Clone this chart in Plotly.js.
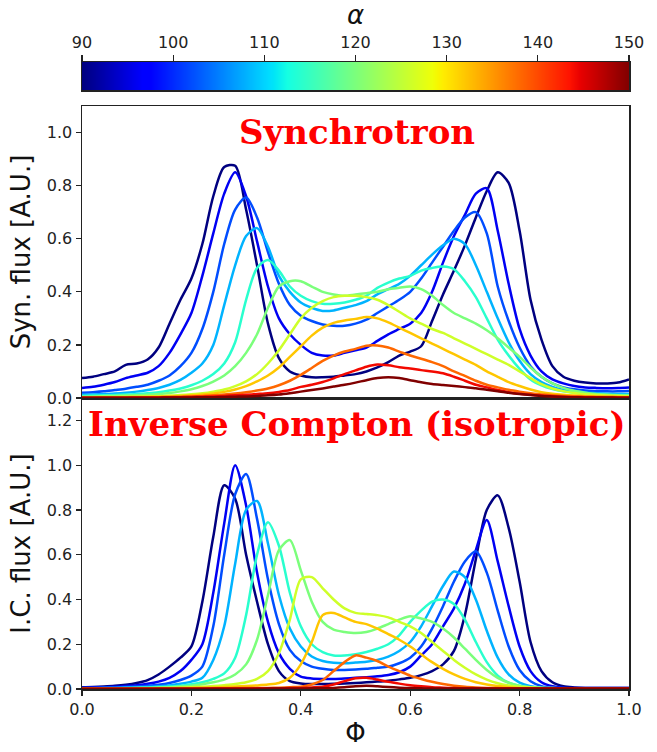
<!DOCTYPE html>
<html><head><meta charset="utf-8">
<script src="https://cdn.plot.ly/plotly-3.0.1.min.js"></script>
<style>html,body{margin:0;padding:0;background:#fff}</style>
</head><body><div id="chart" style="width:657px;height:752px"></div>
<script>
// Shared phase grid
const PHI = [0.00,0.02,0.04,0.06,0.08,0.10,0.12,0.14,0.16,0.18,0.20,0.22,0.24,0.26,0.28,0.30,0.32,0.34,0.36,0.38,0.40,0.42,0.44,0.46,0.48,0.50,0.52,0.54,0.56,0.58,0.60,0.62,0.64,0.66,0.68,0.70,0.72,0.74,0.76,0.78,0.80,0.82,0.84,0.86,0.88,0.90,0.92,0.94,0.96,0.98,1.00];
const ALPHA = [90,96,102,108,114,120,126,132,138,144,150];
const ALPHA_MIN = 90, ALPHA_MAX = 150;
const CBAR_TICKS = [90,100,110,120,130,140,150];

// Synchrotron light curves
const SYN_90  = [0.075,0.08,0.09,0.10,0.125,0.13,0.145,0.19,0.28,0.37,0.45,0.58,0.76,0.87,0.875,0.71,0.50,0.28,0.15,0.10,0.085,0.078,0.078,0.08,0.085,0.09,0.10,0.115,0.135,0.16,0.175,0.195,0.29,0.39,0.48,0.575,0.68,0.78,0.85,0.81,0.63,0.37,0.22,0.12,0.08,0.065,0.058,0.055,0.055,0.058,0.07];
const SYN_96  = [0.038,0.042,0.05,0.06,0.075,0.085,0.095,0.12,0.17,0.24,0.32,0.46,0.62,0.77,0.85,0.76,0.59,0.42,0.30,0.24,0.20,0.17,0.16,0.16,0.17,0.18,0.19,0.215,0.24,0.26,0.28,0.32,0.40,0.51,0.61,0.69,0.77,0.79,0.63,0.43,0.26,0.16,0.10,0.07,0.055,0.045,0.04,0.038,0.037,0.038,0.04];
const SYN_102 = [0.02,0.022,0.025,0.03,0.035,0.042,0.05,0.065,0.085,0.12,0.17,0.26,0.40,0.58,0.71,0.755,0.68,0.55,0.43,0.35,0.31,0.29,0.277,0.272,0.272,0.28,0.295,0.32,0.345,0.37,0.40,0.45,0.51,0.57,0.63,0.68,0.70,0.62,0.42,0.29,0.19,0.12,0.08,0.055,0.04,0.033,0.028,0.026,0.025,0.025,0.026];
const SYN_108 = [0.012,0.013,0.015,0.017,0.02,0.024,0.03,0.038,0.05,0.068,0.095,0.13,0.20,0.35,0.50,0.61,0.64,0.57,0.46,0.40,0.36,0.34,0.328,0.33,0.34,0.35,0.365,0.39,0.41,0.43,0.46,0.50,0.54,0.575,0.60,0.58,0.50,0.40,0.30,0.21,0.14,0.09,0.06,0.042,0.03,0.024,0.02,0.018,0.016,0.015,0.015];
const SYN_114 = [0.008,0.009,0.01,0.011,0.013,0.015,0.018,0.022,0.028,0.036,0.048,0.065,0.09,0.13,0.21,0.37,0.49,0.52,0.48,0.42,0.385,0.365,0.355,0.355,0.36,0.37,0.385,0.415,0.435,0.45,0.46,0.48,0.49,0.495,0.485,0.44,0.38,0.30,0.22,0.16,0.11,0.07,0.048,0.034,0.025,0.02,0.016,0.014,0.012,0.011,0.011];
const SYN_120 = [0.005,0.006,0.007,0.008,0.009,0.01,0.012,0.015,0.019,0.025,0.033,0.045,0.062,0.085,0.12,0.17,0.24,0.34,0.42,0.44,0.44,0.42,0.40,0.39,0.385,0.39,0.395,0.40,0.41,0.415,0.42,0.41,0.385,0.35,0.32,0.30,0.28,0.255,0.225,0.19,0.155,0.115,0.08,0.055,0.038,0.027,0.02,0.015,0.012,0.01,0.009];
const SYN_126 = [0.003,0.003,0.004,0.004,0.005,0.005,0.006,0.007,0.009,0.011,0.014,0.018,0.024,0.032,0.045,0.063,0.09,0.13,0.18,0.24,0.30,0.34,0.365,0.38,0.385,0.385,0.38,0.37,0.35,0.325,0.30,0.28,0.26,0.245,0.225,0.205,0.185,0.165,0.145,0.125,0.10,0.075,0.052,0.036,0.026,0.019,0.014,0.011,0.009,0.008,0.007];
const SYN_132 = [0.002,0.002,0.003,0.003,0.003,0.004,0.004,0.005,0.006,0.008,0.01,0.013,0.017,0.023,0.032,0.045,0.063,0.085,0.115,0.155,0.195,0.235,0.265,0.283,0.292,0.298,0.305,0.30,0.285,0.265,0.245,0.225,0.205,0.185,0.165,0.145,0.125,0.10,0.08,0.06,0.045,0.032,0.022,0.016,0.012,0.009,0.007,0.006,0.005,0.005,0.004];
const SYN_138 = [0.001,0.001,0.002,0.002,0.002,0.002,0.003,0.003,0.004,0.005,0.006,0.008,0.01,0.013,0.017,0.022,0.028,0.036,0.048,0.065,0.087,0.113,0.14,0.16,0.175,0.185,0.197,0.198,0.19,0.175,0.16,0.148,0.135,0.12,0.10,0.083,0.065,0.05,0.04,0.031,0.024,0.018,0.013,0.01,0.008,0.006,0.005,0.004,0.004,0.003,0.003];
const SYN_144 = [0.001,0.001,0.001,0.001,0.001,0.002,0.002,0.002,0.003,0.003,0.004,0.005,0.006,0.008,0.01,0.012,0.015,0.018,0.023,0.03,0.042,0.05,0.06,0.074,0.09,0.104,0.118,0.126,0.123,0.116,0.111,0.105,0.10,0.093,0.08,0.065,0.05,0.04,0.03,0.022,0.016,0.012,0.009,0.007,0.005,0.004,0.003,0.003,0.002,0.002,0.002];
const SYN_150 = [0.001,0.001,0.001,0.001,0.001,0.001,0.001,0.001,0.002,0.002,0.002,0.003,0.003,0.004,0.005,0.006,0.008,0.01,0.013,0.018,0.024,0.03,0.036,0.043,0.05,0.058,0.067,0.075,0.078,0.075,0.067,0.059,0.053,0.049,0.045,0.041,0.037,0.031,0.025,0.02,0.015,0.011,0.008,0.006,0.004,0.003,0.002,0.002,0.002,0.001,0.001];

// Inverse Compton light curves
const IC_90  = [0.008,0.009,0.011,0.014,0.019,0.027,0.04,0.065,0.10,0.14,0.19,0.39,0.68,0.91,0.85,0.60,0.39,0.20,0.08,0.035,0.025,0.022,0.022,0.023,0.025,0.027,0.03,0.033,0.037,0.043,0.05,0.062,0.08,0.11,0.17,0.33,0.58,0.80,0.865,0.72,0.48,0.21,0.08,0.03,0.012,0.007,0.005,0.005,0.005,0.005,0.005];
const IC_96  = [0.006,0.007,0.008,0.01,0.013,0.017,0.023,0.033,0.05,0.08,0.13,0.20,0.43,0.74,1.00,0.82,0.52,0.30,0.16,0.09,0.055,0.047,0.045,0.045,0.047,0.05,0.053,0.057,0.063,0.075,0.10,0.15,0.20,0.28,0.36,0.47,0.62,0.755,0.57,0.37,0.19,0.08,0.03,0.012,0.006,0.004,0.004,0.004,0.004,0.004,0.004];
const IC_102 = [0.004,0.005,0.006,0.007,0.009,0.011,0.014,0.019,0.027,0.04,0.06,0.10,0.28,0.60,0.87,0.96,0.76,0.49,0.29,0.175,0.125,0.10,0.09,0.085,0.085,0.087,0.09,0.095,0.10,0.115,0.14,0.19,0.27,0.37,0.48,0.57,0.615,0.52,0.35,0.19,0.085,0.035,0.013,0.006,0.004,0.003,0.003,0.003,0.003,0.003,0.003];
const IC_108 = [0.003,0.003,0.004,0.005,0.006,0.007,0.009,0.012,0.016,0.023,0.033,0.05,0.13,0.28,0.56,0.80,0.84,0.65,0.42,0.27,0.19,0.145,0.125,0.117,0.115,0.118,0.122,0.13,0.145,0.17,0.21,0.28,0.37,0.46,0.525,0.50,0.40,0.26,0.14,0.065,0.028,0.012,0.006,0.004,0.003,0.003,0.003,0.003,0.003,0.003,0.003];
const IC_114 = [0.002,0.002,0.003,0.003,0.004,0.005,0.006,0.008,0.011,0.015,0.021,0.03,0.045,0.07,0.14,0.33,0.60,0.745,0.64,0.43,0.28,0.20,0.165,0.15,0.15,0.155,0.165,0.18,0.20,0.24,0.30,0.35,0.39,0.40,0.38,0.31,0.21,0.12,0.06,0.028,0.013,0.007,0.004,0.003,0.003,0.003,0.003,0.003,0.003,0.003,0.003];
const IC_120 = [0.002,0.002,0.002,0.003,0.003,0.004,0.005,0.006,0.008,0.011,0.015,0.021,0.03,0.042,0.065,0.11,0.22,0.42,0.62,0.665,0.53,0.39,0.30,0.265,0.255,0.25,0.255,0.27,0.29,0.31,0.325,0.315,0.30,0.27,0.23,0.18,0.13,0.085,0.05,0.028,0.015,0.008,0.005,0.003,0.003,0.003,0.003,0.003,0.003,0.003,0.003];
const IC_126 = [0.001,0.001,0.002,0.002,0.002,0.003,0.003,0.004,0.005,0.006,0.008,0.01,0.013,0.017,0.022,0.03,0.045,0.08,0.16,0.31,0.49,0.50,0.45,0.40,0.36,0.34,0.335,0.33,0.32,0.30,0.28,0.25,0.21,0.17,0.13,0.095,0.065,0.042,0.026,0.016,0.01,0.007,0.005,0.004,0.003,0.003,0.003,0.003,0.003,0.003,0.003];
const IC_132 = [0.001,0.001,0.001,0.001,0.002,0.002,0.002,0.003,0.003,0.004,0.005,0.006,0.007,0.009,0.011,0.013,0.016,0.02,0.027,0.05,0.11,0.21,0.33,0.34,0.32,0.30,0.29,0.27,0.245,0.22,0.19,0.155,0.12,0.09,0.065,0.045,0.03,0.02,0.013,0.008,0.005,0.004,0.003,0.003,0.003,0.003,0.003,0.003,0.003,0.003,0.003];
const IC_138 = [0.001,0.001,0.001,0.001,0.001,0.001,0.001,0.002,0.002,0.002,0.002,0.003,0.003,0.003,0.004,0.004,0.005,0.005,0.006,0.008,0.01,0.02,0.04,0.08,0.12,0.15,0.14,0.125,0.10,0.08,0.06,0.045,0.032,0.022,0.015,0.01,0.007,0.005,0.004,0.003,0.003,0.003,0.003,0.003,0.003,0.003,0.003,0.003,0.003,0.003,0.003];
const IC_144 = [0.001,0.001,0.001,0.001,0.001,0.001,0.001,0.001,0.001,0.001,0.001,0.001,0.002,0.002,0.002,0.002,0.003,0.003,0.003,0.004,0.005,0.007,0.01,0.02,0.035,0.048,0.05,0.042,0.032,0.024,0.017,0.012,0.008,0.006,0.004,0.003,0.003,0.003,0.002,0.002,0.002,0.002,0.002,0.002,0.002,0.002,0.002,0.002,0.002,0.002,0.002];
const IC_150 = [0.001,0.001,0.001,0.001,0.001,0.001,0.001,0.001,0.001,0.001,0.001,0.001,0.001,0.001,0.001,0.001,0.001,0.002,0.002,0.002,0.002,0.003,0.003,0.005,0.008,0.012,0.014,0.012,0.009,0.006,0.004,0.003,0.002,0.002,0.002,0.002,0.002,0.002,0.002,0.002,0.002,0.002,0.002,0.002,0.002,0.002,0.002,0.002,0.002,0.002,0.002];

const SYN = [SYN_90,SYN_96,SYN_102,SYN_108,SYN_114,SYN_120,SYN_126,SYN_132,SYN_138,SYN_144,SYN_150];
const IC  = [IC_90,IC_96,IC_102,IC_108,IC_114,IC_120,IC_126,IC_132,IC_138,IC_144,IC_150];

// matplotlib "jet" colormap
const JET = {
  r: [[0,0],[0.35,0],[0.66,1],[0.89,1],[1,0.5]],
  g: [[0,0],[0.125,0],[0.375,1],[0.64,1],[0.91,0],[1,0]],
  b: [[0,0.5],[0.11,1],[0.34,1],[0.65,0],[1,0]]
};
function seg(pts, t){
  for(let i=1;i<pts.length;i++){
    if(t<=pts[i][0]){const [x0,y0]=pts[i-1],[x1,y1]=pts[i];return y0+(y1-y0)*(t-x0)/(x1-x0);}
  }
  return pts[pts.length-1][1];
}
function jet(t){
  t=Math.max(0,Math.min(1,t));
  const c=[seg(JET.r,t),seg(JET.g,t),seg(JET.b,t)].map(v=>Math.round(v*255));
  return `rgb(${c[0]},${c[1]},${c[2]})`;
}
const STOPS=[0,0.11,0.125,0.34,0.35,0.375,0.64,0.65,0.66,0.89,0.91,1];
const JET_SCALE = STOPS.map(s=>[s,jet(s)]);

const traces=[];
ALPHA.forEach((a,i)=>{
  const col=jet((a-ALPHA_MIN)/(ALPHA_MAX-ALPHA_MIN));
  traces.push({x:PHI,y:SYN[i],xaxis:'x2',yaxis:'y2',mode:'lines',
    line:{color:col,width:2.5,shape:'spline',smoothing:0.8},hoverinfo:'skip',showlegend:false});
  traces.push({x:PHI,y:IC[i],xaxis:'x',yaxis:'y',mode:'lines',
    line:{color:col,width:2.5,shape:'spline',smoothing:0.8},hoverinfo:'skip',showlegend:false});
});
// colour bar drawn as a smooth heatmap between the two ends of the alpha range
traces.push({type:'heatmap',x:[ALPHA_MIN,ALPHA_MAX],y:[0,1],z:[[ALPHA_MIN,ALPHA_MAX],[ALPHA_MIN,ALPHA_MAX]],
  zmin:ALPHA_MIN,zmax:ALPHA_MAX,colorscale:JET_SCALE,zsmooth:'best',showscale:false,
  xaxis:'x3',yaxis:'y3',hoverinfo:'skip'});

const H=689; // plot-area height in px (t=0, b=63)
const tickFont={family:'DejaVu Sans, sans-serif',size:16,color:'#222'};
const frame={showline:true,mirror:true,linecolor:'#222',linewidth:1.5,showgrid:false,zeroline:false};

const layout={
  width:657,height:752,margin:{l:82,r:28,t:0,b:63},
  paper_bgcolor:'#fff',plot_bgcolor:'#fff',
  font:{family:'DejaVu Sans, sans-serif',color:'#222'},
  xaxis:Object.assign({},frame,{domain:[0,1],anchor:'y',range:[0,1],tickvals:[0,0.2,0.4,0.6,0.8,1.0],
    tickformat:'.1f',ticks:'outside',ticklen:5,tickwidth:1.3,tickcolor:'#222',tickfont:tickFont,
    title:{text:'Φ',font:{family:'DejaVu Sans, sans-serif',size:26,color:'#111'},standoff:6}}),
  yaxis:Object.assign({},frame,{domain:[0,1-398/H],anchor:'x',range:[0,1.3],tickvals:[0,0.2,0.4,0.6,0.8,1.0,1.2],
    tickformat:'.1f',ticks:'outside',ticklen:5,tickwidth:1.3,tickcolor:'#222',tickfont:tickFont,
    title:{text:'I.C. flux [A.U.]',font:{family:'DejaVu Sans, sans-serif',size:26,color:'#111'},standoff:8}}),
  xaxis2:Object.assign({},frame,{domain:[0,1],anchor:'y2',matches:'x',range:[0,1],showticklabels:false,ticks:''}),
  yaxis2:Object.assign({},frame,{domain:[1-398/H,1-106/H],anchor:'x2',range:[0,1.1],tickvals:[0,0.2,0.4,0.6,0.8,1.0],
    tickformat:'.1f',ticks:'outside',ticklen:5,tickwidth:1.3,tickcolor:'#222',tickfont:tickFont,
    title:{text:'Syn. flux [A.U.]',font:{family:'DejaVu Sans, sans-serif',size:26,color:'#111'},standoff:8}}),
  xaxis3:{domain:[0,1],anchor:'y3',range:[ALPHA_MIN,ALPHA_MAX],side:'top',tickvals:CBAR_TICKS,
    ticks:'outside',ticklen:6,tickwidth:1.3,tickcolor:'#222',tickfont:tickFont,
    showline:true,mirror:true,linecolor:'#222',linewidth:1.5,showgrid:false,zeroline:false,
    title:{text:'<i>α</i>',font:{family:'DejaVu Sans, sans-serif',size:26,color:'#111'},standoff:6}},
  yaxis3:{domain:[1-90/H,1-62/H],anchor:'x3',range:[0,1],showticklabels:false,ticks:'',
    showline:true,mirror:true,linecolor:'#222',linewidth:1.5,showgrid:false,zeroline:false},
  annotations:[
    {text:'<b>Synchrotron</b>',xref:'paper',yref:'paper',x:0.503,y:1-132/H,xanchor:'center',yanchor:'middle',
     showarrow:false,font:{family:'DejaVu Serif, serif',size:34,color:'#ff0000'}},
    {text:'<b>Inverse Compton (isotropic)</b>',xref:'paper',yref:'paper',x:0.503,y:1-424/H,xanchor:'center',yanchor:'middle',
     showarrow:false,font:{family:'DejaVu Serif, serif',size:34,color:'#ff0000'}}
  ]
};
Plotly.newPlot('chart',traces,layout,{staticPlot:true,displayModeBar:false});
</script></body></html>
